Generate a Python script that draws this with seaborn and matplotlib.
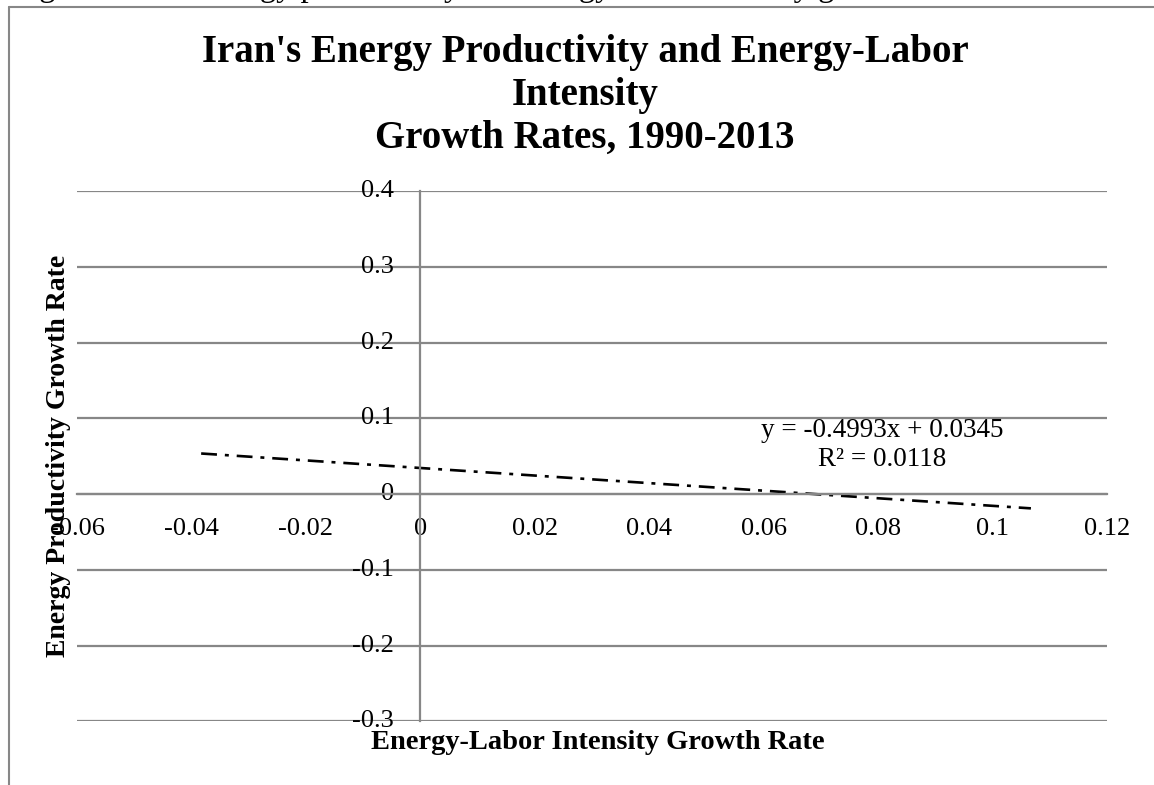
"""
Iran's energy productivity vs energy-labor intensity growth rates, 1990-2013
(Excel-style scatter with linear trendline only)
"""
import numpy as np
import pandas as pd
import matplotlib
matplotlib.use("Agg")
import matplotlib.pyplot as plt
from matplotlib.lines import Line2D
import seaborn as sns

# ── data ──────────────────────────────────────────────────────
trend_x_range = [-0.0383, 0.1067]   # span of the observed growth rates
fit_slope = -0.4993
fit_intercept = 0.0345
fit_r2 = 0.0118

x_ticks = [-0.06, -0.04, -0.02, 0, 0.02, 0.04, 0.06, 0.08, 0.1, 0.12]
x_tick_labels = ["-0.06", "-0.04", "-0.02", "0", "0.02", "0.04", "0.06", "0.08", "0.1", "0.12"]
y_ticks = [-0.3, -0.2, -0.1, 0, 0.1, 0.2, 0.3, 0.4]
y_tick_labels = ["-0.3", "-0.2", "-0.1", "0", "0.1", "0.2", "0.3", "0.4"]

title = "Iran's Energy Productivity and Energy-Labor\nIntensity\nGrowth Rates, 1990-2013"
caption = "Figure 5: Iran Energy productivity and energy-labor intensity growth rates"

trend = pd.DataFrame({"x": trend_x_range})
trend["y"] = fit_slope * trend["x"] + fit_intercept

# ── style ─────────────────────────────────────────────────────
sns.set_theme(style="white")
plt.rcParams["font.family"] = ["Liberation Serif", "DejaVu Serif"]
plt.rcParams["axes.unicode_minus"] = False
plt.rcParams["text.color"] = "black"
plt.rcParams["axes.labelcolor"] = "black"
grey = "#878787"

fig = plt.figure(figsize=(11.54, 7.85), dpi=100)
ax = fig.add_axes([0.0667, 0.0809, 0.8926, 0.6758])

sns.lineplot(data=trend, x="x", y="y", ax=ax, color="black", linewidth=1.9,
             dashes=False, legend=False)
ax.lines[0].set_dashes([6, 3, 1.5, 3])

ax.set_xlim(-0.06, 0.12)
ax.set_ylim(-0.3, 0.4)
ax.set_xticks(x_ticks, x_tick_labels)
ax.set_yticks(y_ticks, y_tick_labels)

# axes cross at zero like Excel
for side in ["top", "right"]:
    ax.spines[side].set_visible(False)
ax.spines["left"].set_position(("data", 0))
ax.spines["bottom"].set_position(("data", 0))
for side in ["left", "bottom"]:
    ax.spines[side].set_color(grey)
    ax.spines[side].set_linewidth(1.6)
ax.grid(False)
for yv in y_ticks:
    ax.axhline(yv, color=grey, linewidth=1.6, zorder=0)

ax.tick_params(axis="both", direction="out", length=7, width=1.5, color=grey,
               labelsize=19, labelcolor="black")
ax.tick_params(axis="y", pad=12)
ax.tick_params(axis="x", pad=10)
for lbl in ax.get_yticklabels():
    lbl.set_verticalalignment("center")

ax.set_xlabel("Energy-Labor Intensity Growth Rate", fontsize=20.5, fontweight="bold", va="center")
ax.xaxis.set_label_coords(0.506, -0.040)
ax.set_ylabel("Energy Productivity Growth Rate", fontsize=20, fontweight="bold", va="center")
ax.yaxis.set_label_coords(-0.0175, 0.501)

ax.text(0.0807, 0.0648, f"y = {fit_slope}x + {fit_intercept}\nR\u00b2 = {fit_r2}",
        ha="center", va="center", fontsize=19.5, linespacing=1.2)

fig.text(0.507, 1 - 34 / 785, title, ha="center", va="top", fontsize=28,
         fontweight="bold", linespacing=1.22)
# caption above the chart box; only its descenders fall inside the picture
fig.text(12 / 1154, 1 + 4 / 785, caption, ha="left", va="baseline", fontsize=23.5)

# chart frame (partly outside the picture)
fig.add_artist(Line2D([9 / 1154, 9 / 1154], [0, 1 - 7 / 785], color=grey, linewidth=1.5))
fig.add_artist(Line2D([9 / 1154, 1], [1 - 7 / 785, 1 - 7 / 785], color=grey, linewidth=1.5))

fig.savefig("out.png", dpi=100)
